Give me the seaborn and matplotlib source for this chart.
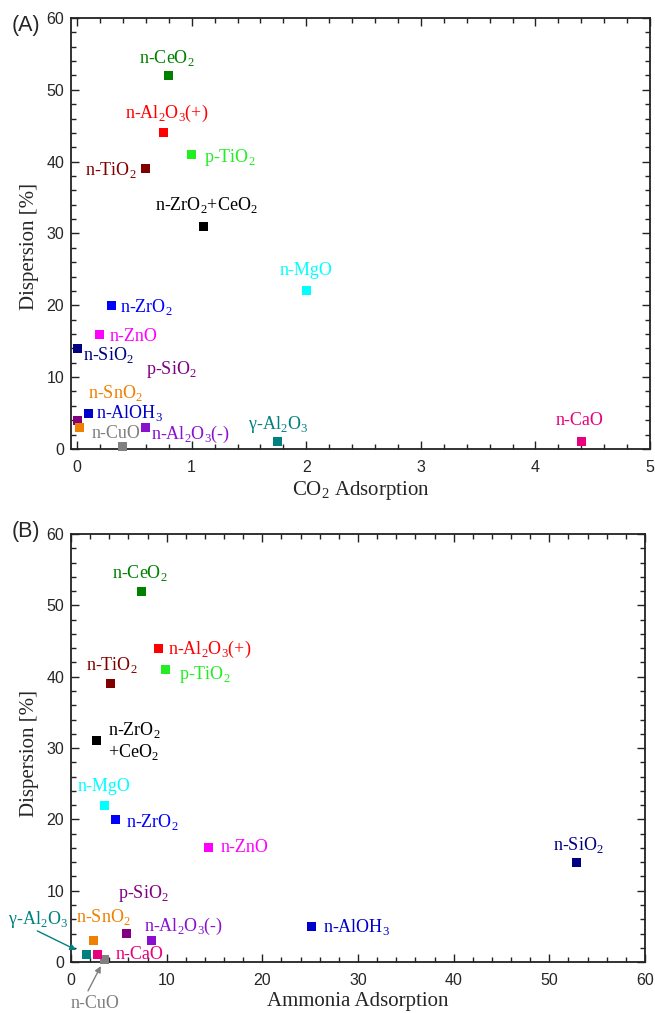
import re
import pandas as pd
import matplotlib
matplotlib.use("Agg")
import matplotlib.pyplot as plt
from matplotlib.ticker import MultipleLocator
import seaborn as sns

# --- data ---
names = ['n-CeO2', 'n-Al2O3(+)', 'p-TiO2', 'n-TiO2', 'n-ZrO2+CeO2', 'n-MgO',
         'n-ZrO2', 'n-ZnO', 'n-SiO2', 'p-SiO2', 'n-SnO2', 'n-AlOH3',
         'n-CuO', 'n-Al2O3(-)', 'γ-Al2O3', 'n-CaO']
dispersion = [52, 44, 41, 39, 31, 22, 20, 16, 14, 4, 3, 5, 0.3, 3, 1, 1]
co2_adsorption = [0.8, 0.75, 1.0, 0.6, 1.1, 2.0, 0.3, 0.2, 0.0, 0.0, 0.02, 0.1,
                  0.4, 0.6, 1.75, 4.4]
nh3_adsorption = [7.4, 9.1, 9.9, 4.1, 2.7, 3.45, 4.7, 14.4, 52.8, 5.75, 2.4, 25.1,
                  3.45, 8.4, 1.6, 2.8]
colors = ['#008000', '#FF0000', '#22EE22', '#800000', '#000000', '#00FFFF',
          '#0000FF', '#FF00FF', '#000080', '#800080', '#F08000', '#0000CD',
          '#808080', '#8A10D0', '#008080', '#E8007D']
palette = dict(zip(names, colors))

df = pd.DataFrame({'name': names, 'disp': dispersion,
                   'co2': co2_adsorption, 'nh3': nh3_adsorption})

# label placement: (dx px, dy px, ha)
offs_a = {
    'n-CeO2': (-2, 20, 'center'), 'n-Al2O3(+)': (4, 22, 'center'),
    'p-TiO2': (12, 0, 'left'), 'n-TiO2': (-9, 1, 'right'),
    'n-ZrO2+CeO2': (3, 24, 'center'), 'n-MgO': (0, 22, 'center'),
    'n-ZrO2': (9, 1, 'left'), 'n-ZnO': (10, 0, 'left'),
    'n-SiO2': (6, -4, 'left'), 'p-SiO2': (69, 54, 'left'),
    'n-SnO2': (9, 37, 'left'), 'n-AlOH3': (7, 3, 'left'),
    'n-CuO': (-31, 15, 'left'), 'n-Al2O3(-)': (5, -4, 'left'),
    'γ-Al2O3': (0, 20, 'center'), 'n-CaO': (-2, 23, 'center'),
}
offs_b = {
    'n-CeO2': (-2, 21, 'center'), 'n-Al2O3(+)': (10, 2, 'left'),
    'p-TiO2': (13, -2, 'left'), 'n-TiO2': (2, 21, 'center'),
    'n-ZrO2+CeO2': (11, 0, 'left'), 'n-MgO': (0, 21, 'center'),
    'n-ZrO2': (10, 0, 'left'), 'n-ZnO': (12, 2, 'left'),
    'n-SiO2': (2, 20, 'center'), 'n-AlOH3': (12, 2, 'left'),
    'p-SiO2': (17, 43, 'center'), 'n-SnO2': (9, 26, 'center'),
    'n-Al2O3(-)': (-7, 17, 'left'), 'n-CaO': (18, 2, 'left'),
    'γ-Al2O3': (-48, 38, 'center'), 'n-CuO': (-9, -42, 'center'),
}
# arrows in panel B: tail offset px from marker, shrink at head (pt)
arrows_b = {'γ-Al2O3': (-49, 24, 8), 'n-CuO': (-16, -31, 5)}


def sub(s):
    return re.sub(r'(\d)', r'$_\\mathregular{\1}$', s)


sns.set_style('ticks')
plt.rcParams['font.family'] = ['Liberation Serif', 'DejaVu Serif']
plt.rcParams['mathtext.fontset'] = 'custom'
plt.rcParams['mathtext.rm'] = 'Liberation Serif'

fig = plt.figure(figsize=(6.55, 10.13), dpi=100)
ax_a = fig.add_axes([0.1084, 0.5568, 0.884, 0.4255])
ax_b = fig.add_axes([0.1084, 0.0503, 0.8763, 0.4225])

for ax, xcol in [(ax_a, 'co2'), (ax_b, 'nh3')]:
    sns.scatterplot(data=df, x=xcol, y='disp', hue='name', palette=palette,
                    marker='s', s=42, linewidth=0, legend=False, ax=ax,
                    clip_on=False, zorder=3)

# panel A labels
for _, r in df.iterrows():
    dx, dy, ha = offs_a[r['name']]
    ax_a.annotate(sub(r['name']), (r['co2'], r['disp']), xytext=(dx, dy),
                  textcoords='offset pixels', ha=ha, va='center_baseline',
                  fontsize=13, color=palette[r['name']], annotation_clip=False)

# panel B labels
for _, r in df.iterrows():
    nm = r['name']
    dx, dy, ha = offs_b[nm]
    txt = sub(nm)
    va = 'center_baseline'
    if nm == 'n-ZrO2+CeO2':
        txt = sub('n-ZrO2') + '\n' + sub('+CeO2')
        va = 'center'
    ax_b.annotate(txt, (r['nh3'], r['disp']), xytext=(dx, dy),
                  textcoords='offset pixels', ha=ha, va=va, fontsize=13,
                  color=palette[nm], annotation_clip=False, linespacing=1.1)
    if nm in arrows_b:
        tx, ty, shr = arrows_b[nm]
        ax_b.annotate('', (r['nh3'], r['disp']), xytext=(tx, ty),
                      textcoords='offset pixels', annotation_clip=False,
                      arrowprops=dict(arrowstyle='-|>', color=palette[nm],
                                      lw=1, shrinkA=0, shrinkB=shr,
                                      mutation_scale=9))

ax_a.set_xlim(-0.053, 5)
ax_a.set_ylim(0, 60)
ax_a.xaxis.set_major_locator(MultipleLocator(1))
ax_a.xaxis.set_minor_locator(MultipleLocator(0.2))
ax_a.set_xlabel('CO$_\\mathregular{2}$ Adsorption', fontsize=15, labelpad=3)

ax_b.set_xlim(0, 60)
ax_b.set_ylim(0, 60)
ax_b.xaxis.set_major_locator(MultipleLocator(10))
ax_b.xaxis.set_minor_locator(MultipleLocator(2))
ax_b.set_xlabel('Ammonia Adsorption', fontsize=15, labelpad=3)

for ax, yc in [(ax_a, 0.47), (ax_b, 0.488)]:
    ax.yaxis.set_major_locator(MultipleLocator(10))
    ax.yaxis.set_minor_locator(MultipleLocator(2))
    ax.set_ylabel('Dispersion [%]', fontsize=15)
    ax.yaxis.set_label_coords(-0.056, yc)
    ax.tick_params(which='both', direction='in', top=True, right=True,
                   width=1, color='#222222')
    ax.tick_params(which='major', length=6)
    ax.tick_params(which='minor', length=3.5)
    ax.tick_params(axis='x', pad=8)
    ax.tick_params(axis='y', pad=5)
    for lab in ax.get_xticklabels() + ax.get_yticklabels():
        lab.set_fontfamily('Liberation Sans')
        lab.set_fontsize(11.5)
    for sp in ax.spines.values():
        sp.set_linewidth(1.3)
        sp.set_color('#222222')

fig.text(0.018, 0.975, '(A)', fontsize=15.5, family='Liberation Sans', va='center')
fig.text(0.018, 0.475, '(B)', fontsize=15.5, family='Liberation Sans', va='center')

fig.savefig('out.png', dpi=100)
